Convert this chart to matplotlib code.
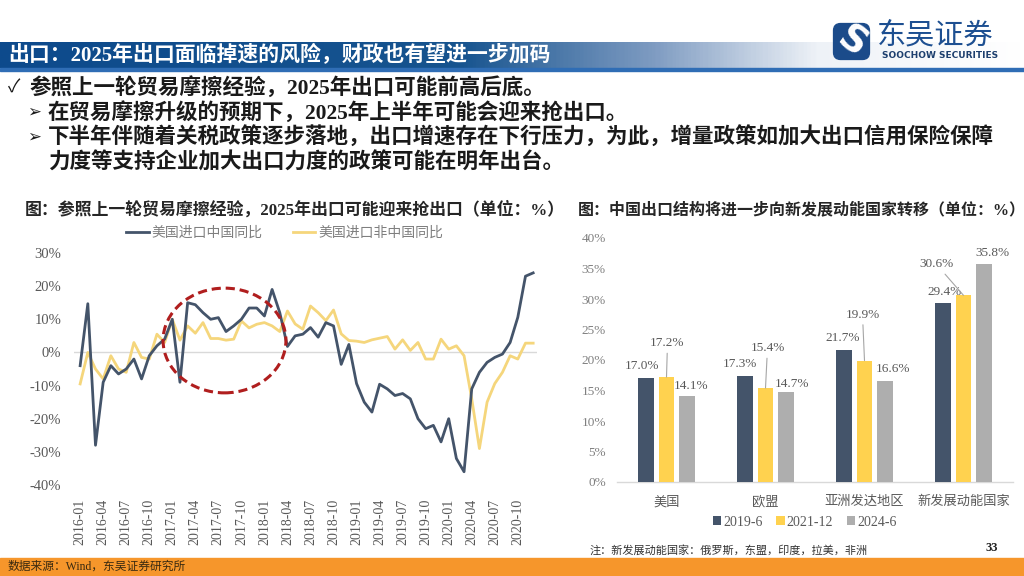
import numpy as np
import matplotlib.pyplot as plt
from matplotlib.patches import Ellipse, FancyBboxPatch, Rectangle
from matplotlib.colors import LinearSegmentedColormap

# ---- data: left chart (US imports yoy, %) ----
months = [f"{y}-{m:02d}" for y in range(2016, 2021) for m in range(1, 13)]
china_yoy = [-4, 14.7, -28, -9, -4, -6.5, -5, -2, -8, -1, 2, 4,
             10, -9, 15, 14.4, 12, 10, 10.5, 6.3, 8, 10, 13.4, 13.4,
             11, 19, 12, 1.8, 5, 5.5, 7.5, 4.6, 9, 8, -3.6, 2.4,
             -9.4, -15, -18, -9.6, -11, -13, -12.4, -14, -20, -23, -22, -27,
             -20, -32, -36, -11, -6, -3, -1.5, -0.5, 3, 10.6, 23, 24]
ex_china_yoy = [-9.5, 0, -5, -8, -1, -5, -6, 3, -1.5, -2, 5.5, 3,
                10, 3.7, 8, 5.8, 9, 4.2, 4.2, 3.7, 4, 9.5, 7.4, 8.5,
                9, 8, 6.3, 12.5, 8.6, 7, 14, 12, 9.6, 12.8, 5.6, 3.6,
                3.4, 3, 3.8, 4.3, 4.8, 1, 3.8, 0.6, 3, -2, -2, 4,
                1, 2, -1, -14, -29, -15, -9.4, -6, -1, -2, 2.8, 2.8]
line_names = ["美国进口中国同比", "美国进口非中国同比"]

# ---- data: right chart (share of China exports, %) ----
regions = ["美国", "欧盟", "亚洲发达地区", "新发展动能国家"]
periods = ["2019-6", "2021-12", "2024-6"]
share_2019 = [17.0, 17.3, 21.7, 29.4]
share_2021 = [17.2, 15.4, 19.9, 30.6]
share_2024 = [14.1, 14.7, 16.6, 35.8]

W, H = 1024, 576
CJK = ["Liberation Serif", "Noto Sans CJK SC", "DejaVu Sans"]
SERIF = ["Liberation Serif"]
NAVY = "#44546A"
YEL_LINE = "#F5D67C"
YEL_BAR = "#FFD24F"
GREY_BAR = "#AEAEAE"
TXT_GREY = "#595959"


def ax_px(fig, x0, y0, x1, y1):
    return fig.add_axes([x0 / W, 1 - y1 / H, (x1 - x0) / W, (y1 - y0) / H])


def fx(x):
    return x / W


def fy(y):
    return 1 - y / H


fig = plt.figure(figsize=(10.24, 5.76), dpi=100)

# header band with fade
hdr = ax_px(fig, 0, 42, 1024, 68)
cmap = LinearSegmentedColormap.from_list(
    "hdr", [(0, "#0D4A8C"), (0.45, "#17548F"), (0.64, "#7F9CC2"), (0.8, "#EEF2F7"), (1, "#FFFFFF")])
hdr.imshow(np.linspace(0, 1, 600)[None, :], cmap=cmap, aspect="auto")
hdr.axis("off")
fig.patches.append(Rectangle((0, fy(71)), 1, 3 / H, transform=fig.transFigure, color="#2F6DB5", zorder=0))
fig.text(fx(8), fy(55), "出口：2025年出口面临掉速的风险，财政也有望进一步加码",
         color="white", fontsize=15, weight="bold", va="center", family=CJK)

# logo
logo = ax_px(fig, 832, 22, 871, 61)
logo.set_xlim(0, 1)
logo.set_ylim(0, 1)
logo.axis("off")
logo.add_patch(FancyBboxPatch((0.04, 0.04), 0.92, 0.92, boxstyle="round,pad=0,rounding_size=0.18",
                              color="#1B4B8A"))
logo.text(0.5, 0.48, "S", color="white", fontsize=27, weight="bold", rotation=-35,
          ha="center", va="center", family="DejaVu Sans")
fig.text(fx(877), fy(36), "东吴证券", color="#1D4F91", fontsize=21, va="center", family=CJK)
fig.text(fx(882), fy(55), "SOOCHOW SECURITIES", color="#1D3F6E", fontsize=6.5, weight="bold",
         va="center", family="DejaVu Sans")

# bullet text
fs = 15.5
fig.text(fx(8), fy(88), "✓", fontsize=13, va="center", family=CJK, color="#1a1a1a")
fig.text(fx(30), fy(88), "参照上一轮贸易摩擦经验，2025年出口可能前高后底。", fontsize=fs,
         weight="bold", va="center", family=CJK, color="#1a1a1a")
fig.text(fx(27), fy(113), "➢", fontsize=12, va="center", family=CJK, color="#1a1a1a")
fig.text(fx(48), fy(113), "在贸易摩擦升级的预期下，2025年上半年可能会迎来抢出口。", fontsize=fs,
         weight="bold", va="center", family=CJK, color="#1a1a1a")
fig.text(fx(27), fy(138), "➢", fontsize=12, va="center", family=CJK, color="#1a1a1a")
fig.text(fx(48), fy(138), "下半年伴随着关税政策逐步落地，出口增速存在下行压力，为此，增量政策如加大出口信用保险保障",
         fontsize=fs, weight="bold", va="center", family=CJK, color="#1a1a1a")
fig.text(fx(48), fy(163), "力度等支持企业加大出口力度的政策可能在明年出台。", fontsize=fs,
         weight="bold", va="center", family=CJK, color="#1a1a1a")

# chart titles
fig.text(fx(25), fy(210), "图：参照上一轮贸易摩擦经验，2025年出口可能迎来抢出口（单位：%）",
         fontsize=12.2, weight="bold", va="center", family=CJK, color="#262626")
fig.text(fx(578), fy(210), "图：中国出口结构将进一步向新发展动能国家转移（单位：%）",
         fontsize=11.5, weight="bold", va="center", family=CJK, color="#262626")

# ---- left line chart ----
ax = ax_px(fig, 74, 253, 537, 485)
x = np.arange(len(months))
ax.axhline(0, color="#D9D9D9", lw=1, zorder=1)
ax.plot(x, ex_china_yoy, color=YEL_LINE, lw=2, label=line_names[1], zorder=2)
ax.plot(x, china_yoy, color=NAVY, lw=2, label=line_names[0], zorder=3)
ax.add_patch(Ellipse((18.8, 3.6), 16, 31.6, fill=False, edgecolor="#B01E1E", lw=2.2,
                     ls=(0, (3, 1.6)), zorder=5))
ax.set_xlim(-0.8, 59.5)
ax.set_ylim(-40, 30)
ax.set_xticks(x[::3])
ax.set_xticklabels(months[::3], rotation=90, fontsize=10, family=SERIF, color=TXT_GREY)
ax.set_yticks(range(-40, 31, 10))
ax.set_yticklabels([f"{v}%" for v in range(-40, 31, 10)], fontsize=10.5, family=SERIF, color=TXT_GREY)
ax.tick_params(length=0, pad=9)
ax.tick_params(axis="x", pad=10)
for s in ax.spines.values():
    s.set_visible(False)
handles, labels = ax.get_legend_handles_labels()
ax.legend(handles[::-1], labels[::-1], loc="center", bbox_to_anchor=(0.455, 1.086), ncol=2,
          frameon=False, prop={"family": CJK, "size": 10}, labelcolor="#7F7F7F",
          handlelength=1.6, handletextpad=0.2, columnspacing=2.2)

# ---- right bar chart ----
ax2 = ax_px(fig, 617, 238, 1013, 482)
pos = np.arange(len(regions))
series = [share_2019, share_2021, share_2024]
colors = [NAVY, YEL_BAR, GREY_BAR]
offs = [-0.21, 0, 0.21]
# label offsets in px (dx right, dy up)
label_offsets = [
    [(-4, 12), (-5, 12), (-1, 12), (2, 11)],
    [(1, 34), (2, 40), (-2, 46), (-27, 31)],
    [(4, 10), (6, 8), (8, 12), (8, 11)],
]
for k, (vals, c, o) in enumerate(zip(series, colors, offs)):
    ax2.bar(pos + o, vals, width=0.16, color=c, label=periods[k], zorder=2)
    for j, v in enumerate(vals):
        dx, dy = label_offsets[k][j]
        kw = {}
        if k == 1:
            kw["arrowprops"] = dict(arrowstyle="-", color="#A6A6A6", lw=0.8, shrinkA=1, shrinkB=0)
        ax2.annotate(f"{v:.1f}%", xy=(pos[j] + o, v), xytext=(dx * 0.72, dy * 0.72),
                     textcoords="offset points", ha="center", va="center", fontsize=9.5,
                     family=SERIF, color=TXT_GREY, **kw)
ax2.axhline(0, color="#D9D9D9", lw=1, clip_on=False, zorder=1)
ax2.set_xlim(-0.5, 3.5)
ax2.set_ylim(0, 40)
ax2.set_xticks(pos)
ax2.set_xticklabels(regions, fontsize=9.5, family=CJK, color=TXT_GREY)
ax2.set_yticks(range(0, 41, 5))
ax2.set_yticklabels([f"{v}%" for v in range(0, 41, 5)], fontsize=9.5, family=SERIF, color="#7F7F7F")
ax2.tick_params(length=0, pad=8)
ax2.tick_params(axis="x", pad=10)
for s in ax2.spines.values():
    s.set_visible(False)
ax2.legend(loc="center", bbox_to_anchor=(0.474, -0.164), ncol=3, frameon=False,
           prop={"family": SERIF, "size": 10}, labelcolor=TXT_GREY,
           handlelength=0.6, handleheight=0.6, handletextpad=0.15, columnspacing=1.0)

# footer
fig.text(fx(590), fy(550), "注：新发展动能国家：俄罗斯，东盟，印度，拉美，非洲", fontsize=8,
         va="center", family=CJK, color="#333333")
fig.text(fx(985), fy(548), "33", fontsize=9, weight="bold", va="center", family=SERIF, color="#222222")
fig.patches.append(Rectangle((0, 0), 1, 18 / H, transform=fig.transFigure, color="#F6962B", zorder=0))
fig.text(fx(8), fy(567), "数据来源：Wind，东吴证券研究所", fontsize=8.5, va="center",
         family=CJK, color="#3A2A10")

fig.savefig("out.png", dpi=100)
